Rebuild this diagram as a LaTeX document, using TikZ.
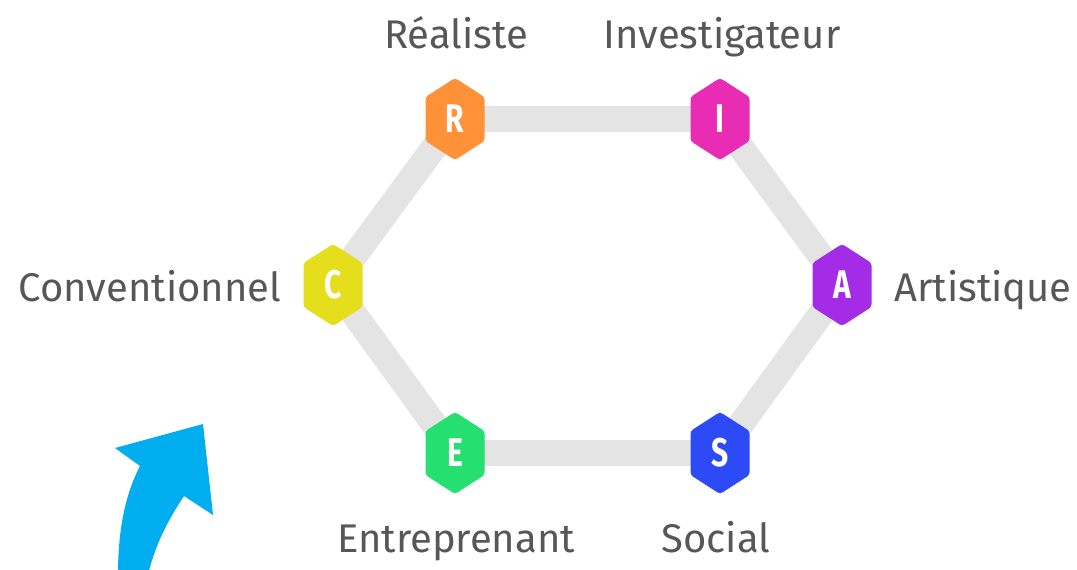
\documentclass[tikz,border=0pt]{standalone}
\usepackage{fontspec}
\setmainfont{Fira Sans}
\newfontfamily\hexfont{Fira Sans}[FakeStretch=0.75]
\definecolor{labgray}{HTML}{575757}
\definecolor{conngray}{HTML}{E4E4E4}
\definecolor{colR}{HTML}{FF9138}
\definecolor{colI}{HTML}{E92CB4}
\definecolor{colA}{HTML}{A42CE6}
\definecolor{colS}{HTML}{2D4AF7}
\definecolor{colE}{HTML}{25E070}
\definecolor{colC}{HTML}{E4DE1C}
\definecolor{arrowblue}{HTML}{00AEEF}
\tikzset{
  hexa/.pic={\fill[rounded corners=3pt] (0,-41) -- (29.5,-22) -- (29.5,22) -- (0,41) -- (-29.5,22) -- (-29.5,-22) -- cycle;},
  hexletter/.style={text=white, font=\hexfont\bfseries\fontsize{40}{40}\selectfont, inner sep=0pt},
  conn/.style={conngray, line width=26pt},
  lab/.style={text=labgray, font=\fontsize{40}{40}\selectfont, inner sep=0pt, anchor=base},
}
\begin{document}
\begin{tikzpicture}[x=1pt,y=-1pt]
\useasboundingbox (0,0) rectangle (1077,570);
\fill[white] (0,0) rectangle (1077,570);
\coordinate (R) at (455,119);
\coordinate (I) at (720,119);
\coordinate (A) at (842,285);
\coordinate (S) at (720,453);
\coordinate (E) at (455,453);
\coordinate (C) at (333,285);
\draw[conn] (R) -- (I) -- (A) -- (S) -- (E) -- (C) -- cycle;
\pic[colR] at (R) {hexa};
\pic[colI] at (I) {hexa};
\pic[colA] at (A) {hexa};
\pic[colS] at (S) {hexa};
\pic[colE] at (E) {hexa};
\pic[colC] at (C) {hexa};
\node[hexletter] (lR) at (R) {R};
\node[hexletter] (lI) at (I) {I};
\node[hexletter] (lA) at (A) {A};
\node[hexletter] (lS) at (S) {S};
\node[hexletter] (lE) at (E) {E};
\node[hexletter] (lC) at (C) {C};
\node[lab] (tR) at (456,48) {Réaliste};
\node[lab] (tI) at (722,48) {Investigateur};
\node[lab] (tA) at (983,301) {Artistique};
\node[lab] (tS) at (716,552) {Social};
\node[lab] (tE) at (456,552) {Entreprenant};
\node[lab] (tC) at (150,301) {Conventionnel};
\fill[arrowblue] (118,575) .. controls (118,530) and (125,495) .. (140,466) -- (115,448) -- (203,424) -- (213,515) -- (184,496) .. controls (168,520) and (155,545) .. (148,575) -- cycle;
\end{tikzpicture}
\end{document}
